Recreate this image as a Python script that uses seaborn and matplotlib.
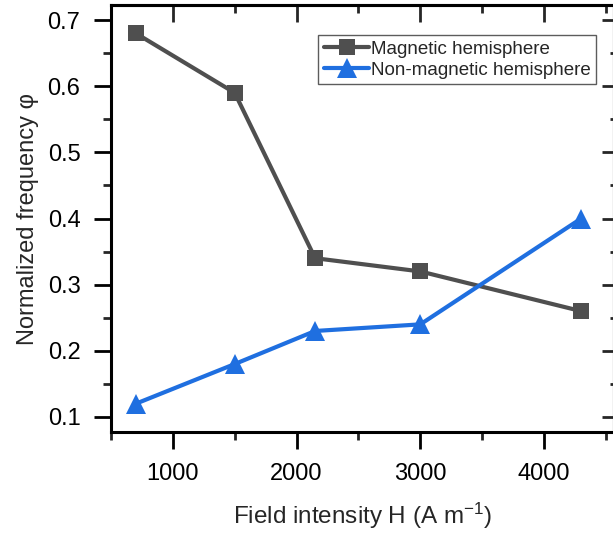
import matplotlib
matplotlib.use("Agg")
import matplotlib.pyplot as plt
from matplotlib.ticker import MultipleLocator
import seaborn as sns
import pandas as pd

field_intensity = [700, 1500, 2150, 3000, 4300]
magnetic = [0.68, 0.59, 0.34, 0.32, 0.26]
non_magnetic = [0.12, 0.18, 0.23, 0.24, 0.40]
series_names = ["Magnetic hemisphere", "Non-magnetic hemisphere"]
x_ticks = [1000, 2000, 3000, 4000]
y_ticks = [0.1, 0.2, 0.3, 0.4, 0.5, 0.6, 0.7]

df = pd.DataFrame({
    "H": field_intensity * 2,
    "phi": magnetic + non_magnetic,
    "series": [series_names[0]] * len(magnetic) + [series_names[1]] * len(non_magnetic),
})

sns.set_theme(style="ticks")
plt.rcParams["font.family"] = ["Liberation Sans", "DejaVu Sans"]
plt.rcParams["mathtext.default"] = "regular"

fig = plt.figure(figsize=(6.13, 5.40), dpi=100)
ax = fig.add_axes([0.181, 0.2, 0.8206, 0.7907])

colors = {series_names[0]: "#4f4f4f", series_names[1]: "#1f6fe0"}
markers = {series_names[0]: "s", series_names[1]: "^"}
sizes = {series_names[0]: 11.5, series_names[1]: 15}

for name in series_names:
    sub = df[df["series"] == name]
    sns.lineplot(data=sub, x="H", y="phi", ax=ax, color=colors[name],
                 marker=markers[name], markersize=sizes[name],
                 markeredgewidth=0, linewidth=3, label=name)

ax.set_xlim(500, 4565)
ax.set_ylim(0.0773, 0.7227)
ax.set_xticks(x_ticks)
ax.set_yticks(y_ticks)
ax.set_yticklabels([f"{v:.1f}" for v in y_ticks])
ax.xaxis.set_minor_locator(MultipleLocator(500))
ax.yaxis.set_minor_locator(MultipleLocator(0.05))

for sp in ax.spines.values():
    sp.set_linewidth(2.2)
    sp.set_color("black")

ax.tick_params(axis="both", which="major", length=12, width=2, labelsize=17,
               colors="black")
ax.tick_params(axis="both", which="minor", length=6, width=2)
ax.tick_params(axis="x", which="both", direction="out", top=False)
ax.tick_params(axis="x", which="major", pad=10)
ax.tick_params(axis="y", which="both", direction="out", right=False)
ax.tick_params(axis="y", which="major", pad=10)

# inward ticks on the mirrored top and right axes
top = ax.secondary_xaxis("top")
top.set_xticks(x_ticks)
top.xaxis.set_minor_locator(MultipleLocator(500))
top.tick_params(which="major", direction="in", length=12, width=2, labeltop=False)
top.tick_params(which="minor", direction="in", length=6, width=2)
top.spines["top"].set_linewidth(2.2)
right = ax.secondary_yaxis("right")
right.set_yticks(y_ticks)
right.yaxis.set_minor_locator(MultipleLocator(0.05))
right.tick_params(which="major", direction="in", length=9, width=2, labelright=False)
right.tick_params(which="minor", direction="in", length=3, width=2)
right.spines["right"].set_linewidth(2.2)

ax.set_xlabel("Field intensity H (A m$^{-1}$)", fontsize=17.5, labelpad=12)
ax.set_ylabel("Normalized frequency \u03c6", fontsize=17, labelpad=6)

leg = ax.legend(loc="upper right", bbox_to_anchor=(0.965, 0.93), fontsize=13.5,
                frameon=True, fancybox=False, handlelength=2.4, handletextpad=0.1,
                borderpad=0.3, labelspacing=0.2, borderaxespad=0)
leg.get_frame().set_edgecolor("#333333")
leg.get_frame().set_linewidth(1.0)

fig.savefig("out.png", dpi=100)
